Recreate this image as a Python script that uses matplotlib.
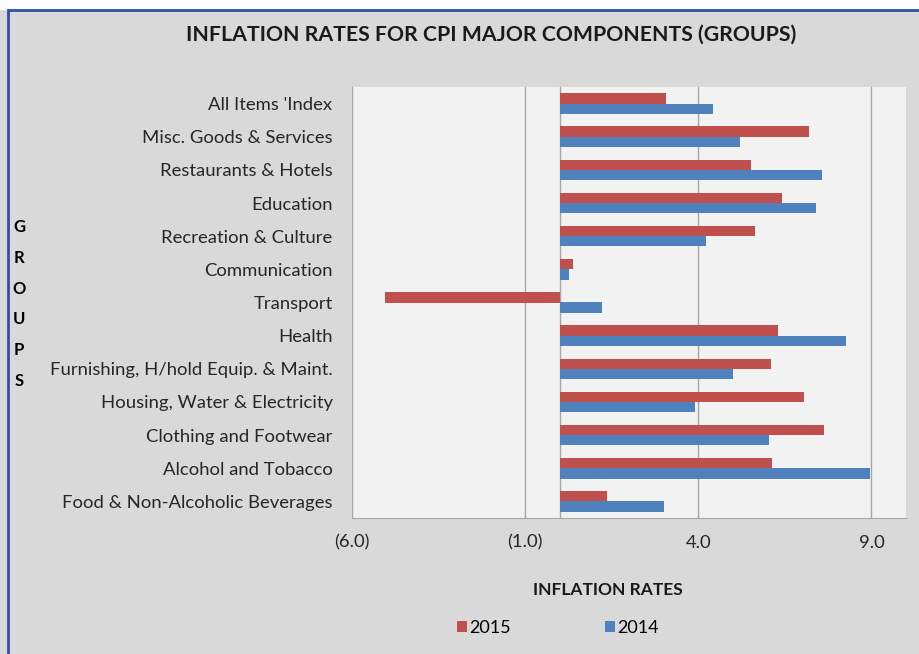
import numpy as np
import matplotlib.pyplot as plt
from matplotlib.patches import Rectangle
from matplotlib.ticker import FuncFormatter, FixedLocator

# Data (top to bottom as shown)
groups = ["All Items 'Index", "Misc. Goods & Services", "Restaurants & Hotels",
          "Education", "Recreation & Culture", "Communication", "Transport",
          "Health", "Furnishing, H/hold Equip. & Maint.",
          "Housing, Water & Electricity", "Clothing and Footwear",
          "Alcohol and Tobacco", "Food & Non-Alcoholic Beverages"]
rates_2015 = [3.06, 7.21, 5.51, 6.43, 5.65, 0.37, -5.06,
              6.30, 6.11, 7.04, 7.63, 6.13, 1.36]
rates_2014 = [4.43, 5.20, 7.57, 7.39, 4.23, 0.28, 1.21,
              8.28, 4.99, 3.91, 6.03, 8.96, 3.02]
x_ticks = [-6, -1, 4, 9]

RED = '#c0504d'
BLUE = '#4f81bd'
BG = '#d9d9d9'

plt.rcParams['font.family'] = ['Lato', 'DejaVu Sans']

fig = plt.figure(figsize=(9.19, 6.54), dpi=100)
fig.patch.set_facecolor(BG)

# white strip at top + blue frame of the chart
fig.patches.append(Rectangle((0, 1 - 10 / 654), 1, 10 / 654,
                             transform=fig.transFigure, facecolor='white',
                             edgecolor='none', zorder=0))
fig.patches.append(Rectangle((8 / 919, -0.05), 1.1, 1 - 10 / 654 + 0.05,
                             transform=fig.transFigure, facecolor='none',
                             edgecolor='#2e4fa8', linewidth=2, zorder=5))

ax = fig.add_axes([352 / 919, 1 - 518 / 654, (906 - 352) / 919, (518 - 87) / 654])
ax.set_facecolor('#f2f2f2')

y = np.arange(len(groups))[::-1]
h = 0.31
ax.barh(y + h / 2, rates_2015, height=h, color=RED, label='2015', zorder=3)
ax.barh(y - h / 2, rates_2014, height=h, color=BLUE, label='2014', zorder=3)

ax.set_xlim(-6, 10)
ax.set_ylim(-0.5, len(groups) - 0.5)
ax.xaxis.set_major_locator(FixedLocator(x_ticks))
ax.xaxis.set_major_formatter(FuncFormatter(
    lambda v, p: '({:.1f})'.format(abs(v)) if v < 0 else '{:.1f}'.format(v)))
ax.grid(axis='x', color='#a6a6a6', linewidth=1, zorder=1)
ax.axvline(0, color='#a6a6a6', linewidth=1, zorder=2)

ax.set_yticks(y)
ax.set_yticklabels(groups)
ax.tick_params(axis='both', length=0, colors='#262626', labelsize=13.3)
ax.tick_params(axis='x', pad=12)
ax.tick_params(axis='y', pad=14)
for s in ['top', 'right', 'left']:
    ax.spines[s].set_visible(False)
ax.spines['bottom'].set_color('#a6a6a6')

fig.text(608 / 919, 1 - 590 / 654, 'INFLATION RATES', ha='center',
         va='center', fontsize=12.5, fontweight='bold', color='#1a1a1a')

fig.text(491 / 919, 1 - 35 / 654, 'INFLATION RATES FOR CPI MAJOR COMPONENTS (GROUPS)',
         ha='center', va='center', fontsize=15.3, fontweight='bold',
         color='#1a1a1a')
fig.text(19 / 919, 1 - 304 / 654, 'G\nR\nO\nU\nP\nS', ha='center',
         va='center', fontsize=12, fontweight='bold', linespacing=2.15)

fig.legend(loc='center', bbox_to_anchor=(558 / 919, 1 - 628 / 654), ncol=2,
           frameon=False, fontsize=13, handlelength=0.55, handleheight=0.55,
           handletextpad=0.15, columnspacing=5.2)

fig.savefig('out.png', dpi=100, facecolor=fig.get_facecolor())
